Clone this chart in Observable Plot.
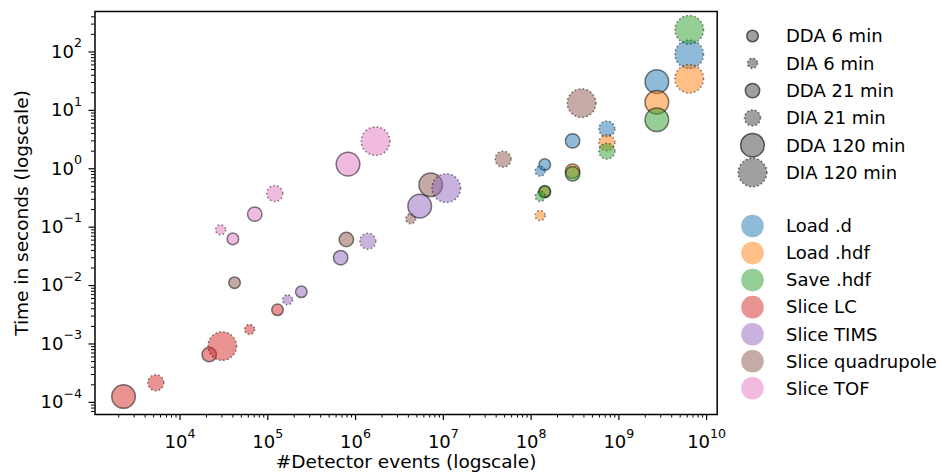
<!DOCTYPE html>
<html><head><meta charset="utf-8">
<script src="https://cdn.jsdelivr.net/npm/d3@7"></script>
<script src="https://cdn.jsdelivr.net/npm/@observablehq/plot@0.6"></script>
<style>
body{margin:0;background:#fff;font-family:"DejaVu Sans",sans-serif;}
#wrap{position:relative;width:942px;height:472px;overflow:hidden;}
</style></head><body><div id="wrap"></div>
<script>
// ---- data ----
const operations = ["Load .d","Load .hdf","Save .hdf","Slice LC","Slice TIMS","Slice quadrupole","Slice TOF"];
const runs = ["DDA 6 min","DIA 6 min","DDA 21 min","DIA 21 min","DDA 120 min","DIA 120 min"];

const loadD_events      = [1.43e8, 1.27e8, 2.97e8, 7.3e8, 2.71e9, 6.34e9];
const loadD_seconds     = [1.18, 0.91, 3.0, 4.8, 31, 91];
const loadHdf_events    = [1.43e8, 1.27e8, 2.97e8, 7.3e8, 2.71e9, 6.34e9];
const loadHdf_seconds   = [0.40, 0.158, 0.91, 2.8, 13.8, 34.8];
const saveHdf_events    = [1.43e8, 1.27e8, 2.97e8, 7.3e8, 2.71e9, 6.34e9];
const saveHdf_seconds   = [0.41, 0.336, 0.82, 2.0, 6.9, 240];
const sliceLC_events    = [1.29e5, 6.2e4, 2.15e4, 5.3e3, 2.27e3, 3.03e4];
const sliceLC_seconds   = [0.00385, 0.00177, 6.6e-4, 2.17e-4, 1.26e-4, 9.2e-4];
const sliceTIMS_events  = [2.41e5, 1.68e5, 6.76e5, 1.38e6, 5.38e6, 1.08e7];
const sliceTIMS_seconds = [0.00783, 0.0057, 0.030, 0.0575, 0.229, 0.466];
const sliceQuad_events  = [4.18e4, 4.25e6, 7.85e5, 4.8e7, 7.18e6, 3.76e8];
const sliceQuad_seconds = [0.0112, 0.139, 0.0615, 1.46, 0.532, 13.3];
const sliceTOF_events   = [4.0e4, 2.9e4, 7.1e4, 1.2e5, 8.2e5, 1.69e6];
const sliceTOF_seconds  = [0.063, 0.090, 0.167, 0.377, 1.2, 2.97];

const xMajorTicks = [1e4, 1e5, 1e6, 1e7, 1e8, 1e9, 1e10];
const yMajorTicks = [1e-4, 1e-3, 1e-2, 1e-1, 1e0, 1e1, 1e2];

// ---- styles ----
const opColors = ["#1f77b4","#ff7f0e","#2ca02c","#d62728","#9467bd","#8c564b","#e377c2"];
const runRadius = [5.8, 5.0, 7.2, 8.0, 11.8, 14.3];
const runDotted = [false, true, false, true, false, true];
const dotDash = "1.5,2.5";

// ---- table ----
const series = [
  [loadD_events, loadD_seconds], [loadHdf_events, loadHdf_seconds], [saveHdf_events, saveHdf_seconds],
  [sliceLC_events, sliceLC_seconds], [sliceTIMS_events, sliceTIMS_seconds],
  [sliceQuad_events, sliceQuad_seconds], [sliceTOF_events, sliceTOF_seconds]
];
const rows = [];
series.forEach(([ev, sec], oi) => ev.forEach((e, ri) => rows.push({op: operations[oi], run: ri, events: e, seconds: sec[ri]})));

function minorsFrom(majors, lo, hi) {
  const out = [];
  const first = majors[0] / 10;
  for (let p = first; p <= majors[majors.length-1] * 10; p *= 10)
    for (let k = 2; k <= 9; k++) { const v = p * k; if (v >= lo && v <= hi) out.push(v); }
  return out;
}
const xDomain = [1074, 1.32e10], yDomain = [6.2e-5, 493];
const xMinor = minorsFrom(xMajorTicks, ...xDomain);
const yMinor = minorsFrom(yMajorTicks, ...yDomain);
const fmt = d => "10^" + Math.round(Math.log10(d));

const dotMarks = runs.map((r, ri) => Plot.dot(rows.filter(d => d.run === ri), {
  x: "events", y: "seconds", r: runRadius[ri], fill: "op", fillOpacity: 0.5,
  stroke: "black", strokeOpacity: 0.5, strokeWidth: 1.5,
  strokeDasharray: runDotted[ri] ? dotDash : null
}));

const chart = Plot.plot({
  width: 942, height: 472,
  marginLeft: 94.5, marginRight: 225.3, marginTop: 11, marginBottom: 58,
  style: {fontFamily: "'DejaVu Sans', sans-serif", fontSize: "18px", color: "black", background: "white", overflow: "visible"},
  x: {type: "log", domain: xDomain},
  y: {type: "log", domain: yDomain},
  color: {domain: operations, range: opColors},
  marks: [
    ...dotMarks,
    Plot.frame({stroke: "black", strokeWidth: 1.5}),
    Plot.axisX(xMinor, {tickSize: 3.5, strokeWidth: 1, tickFormat: () => "", label: null}),
    Plot.axisY(yMinor, {tickSize: 3.5, strokeWidth: 1, tickFormat: () => "", label: null}),
    Plot.axisX(xMajorTicks, {tickSize: 6, strokeWidth: 1.2, tickPadding: 15, tickFormat: fmt, label: null, fontSize: 18}),
    Plot.axisY(yMajorTicks, {tickSize: 6, strokeWidth: 1.2, tickPadding: 7, tickFormat: fmt, label: null, fontSize: 18}),
    Plot.text(["#Detector events (logscale)"], {text: d => d, frameAnchor: "bottom", dy: 48, lineAnchor: "middle", textAnchor: "middle", fontSize: 18.5}),
    Plot.text(["Time in seconds (logscale)"], {text: d => d, frameAnchor: "left", dx: -72.5, rotate: -90, lineAnchor: "middle", textAnchor: "middle", fontSize: 18.5})
  ]
});
document.getElementById("wrap").appendChild(chart);

// superscripts on tick labels
d3.select(chart).selectAll("text").each(function() {
  const t = this.textContent;
  const m = /^10\^(-?\d+)$/.exec(t);
  if (!m) return;
  const sel = d3.select(this);
  sel.text(null);
  sel.append("tspan").text("10");
  sel.append("tspan").attr("font-size", 12.6).attr("dy", -10.5).text(m[1].replace("-", "\u2212"));
});

// legends
const svg = d3.select(chart);
const lg = svg.append("g").attr("font-family", "'DejaVu Sans', sans-serif").attr("font-size", 18).attr("text-anchor", "start");
const lx = 752.5, tx = 786;
runs.forEach((r, i) => {
  const y = 36 + i * 27.3;
  lg.append("circle").attr("cx", lx).attr("cy", y).attr("r", runRadius[i])
    .attr("fill", "gray").attr("fill-opacity", 0.75)
    .attr("stroke", "black").attr("stroke-opacity", 0.6).attr("stroke-width", 1.5)
    .attr("stroke-dasharray", runDotted[i] ? dotDash : null);
  lg.append("text").attr("x", tx).attr("y", y).attr("dy", "0.35em").attr("fill", "black").attr("text-anchor", "start").text(r);
});
operations.forEach((o, i) => {
  const y = 226 + i * 27.05;
  lg.append("circle").attr("cx", lx).attr("cy", y).attr("r", 11.3)
    .attr("fill", opColors[i]).attr("fill-opacity", 0.5);
  lg.append("text").attr("x", tx).attr("y", y).attr("dy", "0.35em").attr("fill", "black").attr("text-anchor", "start").text(o);
});
</script></body></html>
